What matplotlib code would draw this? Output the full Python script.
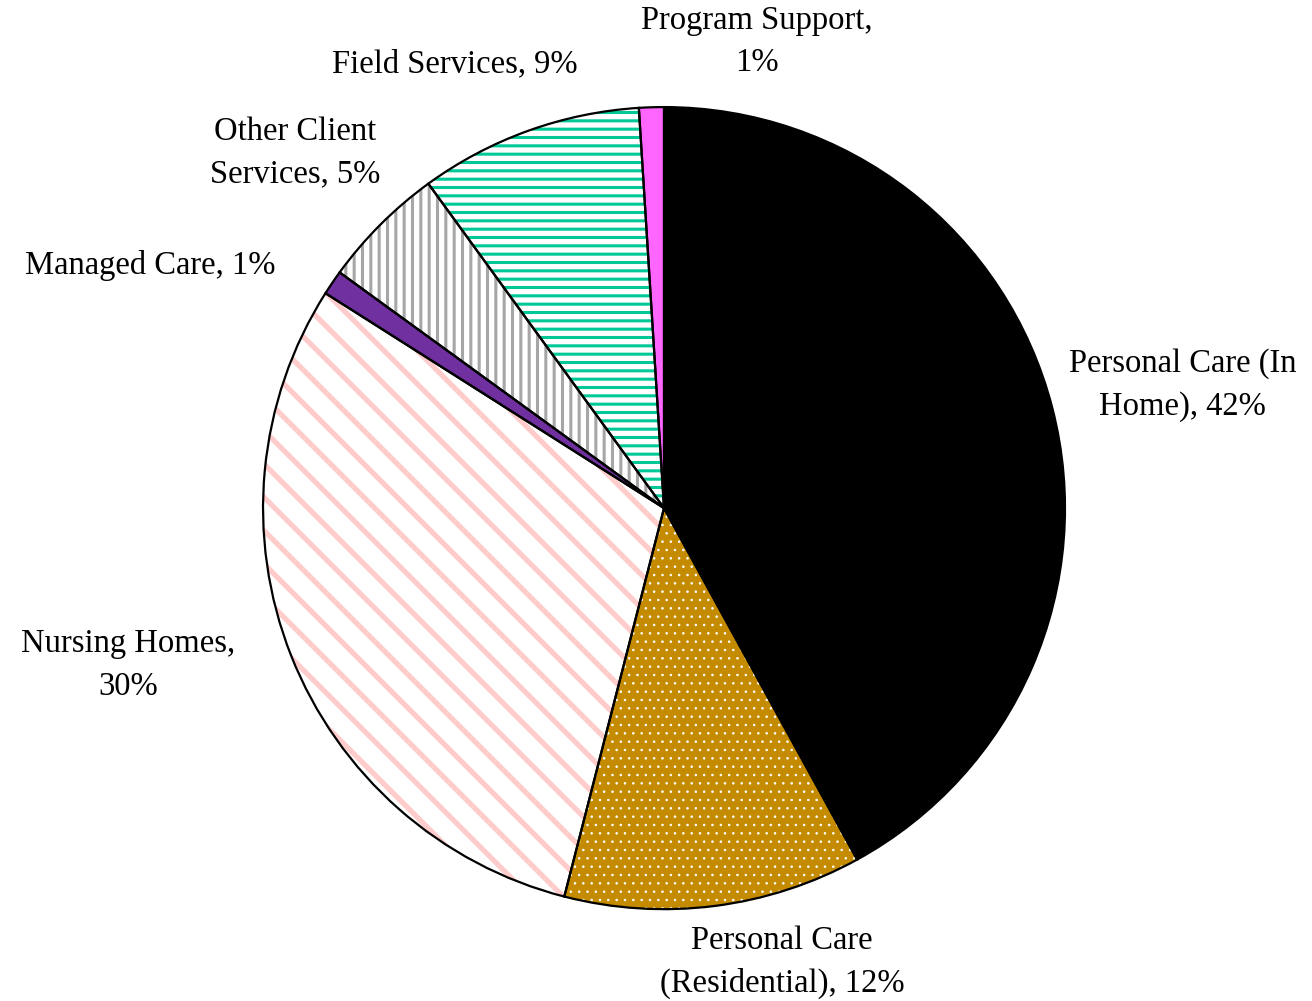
import matplotlib
matplotlib.use('Agg')
import matplotlib.pyplot as plt

categories = ['Personal Care (In\nHome), 42%', 'Personal Care\n(Residential), 12%', 'Nursing Homes,\n30%',
              'Managed Care, 1%', 'Other Client\nServices, 5%', 'Field Services, 9%', 'Program Support,\n1%']
shares = [42, 12, 30, 1, 5, 9, 1]
fills = ['#000000', '#c48b00', '#ffffff', '#7030a0', '#ffffff', '#ffffff', '#ff66ff']
hatch_colors = ['#000000', '#ffffff', '#ffcccc', '#7030a0', '#a6a6a6', '#00c896', '#ff66ff']
hatches = [None, '..', '\\', None, '||', '--', None]
hatch_widths = [1, 0.6, 3.8, 1, 2.2, 2.2, 1]
# label anchors (data units, pie radius = 1)
label_x = [1.294, 0.294, -1.337, -1.282, -0.920, -0.521, 0.232]
label_y = [0.307, -1.132, -0.392, 0.606, 0.885, 1.107, 1.162]

plt.rcParams['hatch.linewidth'] = 2.2

fig = plt.figure(figsize=(13.12, 10.01), dpi=100)
ax = fig.add_axes([0, 0, 1, 1])

# fill + hatch layer
wedges, _ = ax.pie(shares, startangle=90, counterclock=False, radius=1,
                   colors=fills, wedgeprops=dict(linewidth=0))
for w, hc, h, hw in zip(wedges, hatch_colors, hatches, hatch_widths):
    if h:
        w.set_hatch(h)
        w.set_edgecolor(hc)
        if hasattr(w, 'set_hatch_linewidth'):
            w.set_hatch_linewidth(hw)

# outline layer
ax.pie(shares, startangle=90, counterclock=False, radius=1,
       colors=['none'] * len(shares),
       wedgeprops=dict(linewidth=1.6, edgecolor='black', fill=False))

for lab, x, y in zip(categories, label_x, label_y):
    ax.text(x, y, lab, ha='center', va='center', fontsize=23.5,
            family='Liberation Serif', linespacing=1.5)

ax.set_xlim(-1.656, 1.616)
ax.set_ylim(-1.229, 1.267)
ax.set_aspect('auto')
ax.axis('off')

fig.savefig('out.png', dpi=100)
